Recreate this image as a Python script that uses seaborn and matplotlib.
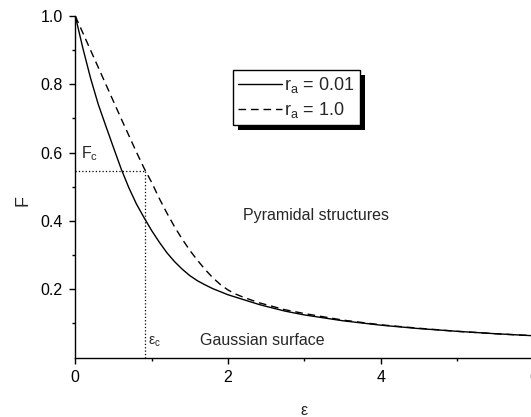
import numpy as np
import pandas as pd
import matplotlib
matplotlib.use("Agg")
import matplotlib.pyplot as plt
import matplotlib.patheffects as pe
import seaborn as sns

# values
eps = [0.0, 0.1, 0.2, 0.3, 0.4, 0.5, 0.6, 0.7, 0.8, 0.9, 1.0, 1.1, 1.2, 1.3,
       1.4, 1.5, 1.6, 1.7, 1.8, 1.9, 2.0, 2.1, 2.2, 2.3, 2.4, 2.5, 2.75,
       3.0, 3.5, 4.0, 4.5, 5.0, 5.5, 6.0]
f_ra_001 = [1.000, 0.905, 0.818, 0.742, 0.678, 0.615, 0.553, 0.498, 0.450,
            0.410, 0.372, 0.338, 0.307, 0.281, 0.259, 0.240, 0.225, 0.213,
            0.202, 0.193, 0.184, 0.177, 0.170, 0.163, 0.156, 0.150, 0.136,
            0.125, 0.108, 0.095, 0.085, 0.077, 0.070, 0.064]
f_ra_1 = [1.000, 0.950, 0.900, 0.850, 0.800, 0.750, 0.700, 0.651, 0.602,
          0.555, 0.513, 0.466, 0.423, 0.383, 0.347, 0.314, 0.285, 0.258,
          0.234, 0.214, 0.198, 0.186, 0.177, 0.169, 0.161, 0.155, 0.140,
          0.129, 0.110, 0.096, 0.086, 0.077, 0.070, 0.064]
series_labels = ["r$_\\mathregular{a}$ = 0.01", "r$_\\mathregular{a}$ = 1.0"]

eps_c = 0.915
F_c = 0.547

x_ticks = [0, 2, 4, 6]
x_minor = [1, 3, 5]
y_ticks = [0.2, 0.4, 0.6, 0.8, 1.0]
y_minor = [0.1, 0.3, 0.5, 0.7, 0.9]

df = pd.DataFrame({"eps": eps, "solid": f_ra_001, "dashed": f_ra_1})

sns.set_style("ticks")
plt.rcParams["font.family"] = ["Liberation Sans", "DejaVu Sans"]
plt.rcParams["axes.edgecolor"] = "black"
plt.rcParams["xtick.color"] = "black"
plt.rcParams["ytick.color"] = "black"

fig = plt.figure(figsize=(5.31, 4.17), dpi=100)
ax = fig.add_axes([0.1418, 0.1424, 0.8627, 0.8192])

sns.lineplot(data=df, x="eps", y="solid", color="black", lw=1.0, ax=ax)
sns.lineplot(data=df, x="eps", y="dashed", color="black", lw=1.0,
             linestyle=(0, (5.5, 3.5)), ax=ax)

# critical point guides
ax.plot([0, eps_c], [F_c, F_c], color="black", lw=0.9, linestyle=(0, (1, 1.7)))
ax.plot([eps_c, eps_c], [0, F_c], color="black", lw=0.9, linestyle=(0, (1, 1.7)))

ax.set_xlim(0, 6)
ax.set_ylim(0, 1.0)
ax.set_xticks(x_ticks)
ax.set_xticks(x_minor, minor=True)
ax.set_yticks(y_ticks)
ax.set_yticklabels([f"{v:.1f}" for v in y_ticks])
ax.set_yticks(y_minor, minor=True)
ax.tick_params(which="major", length=4.5, width=1.0, direction="out",
               labelsize=11.5, pad=4.5)
ax.tick_params(which="minor", length=2.5, width=1.0, direction="out")
for s in ["top", "right"]:
    ax.spines[s].set_visible(False)
for s in ["left", "bottom"]:
    ax.spines[s].set_linewidth(1.0)

ax.set_xlabel("ε", fontsize=11.5, va="baseline")
ax.xaxis.set_label_coords(0.5, -0.168)
ax.set_ylabel("F", fontsize=13, va="baseline")
ax.yaxis.set_label_coords(-0.105, 0.461)

ax.text(0.075, 0.583, "F$_\\mathregular{c}$", fontsize=11.5, va="baseline")
ax.text(0.952, 0.037, "ε$_\\mathregular{c}$", fontsize=10, va="baseline")
ax.text(1.636, 0.037, "Gaussian surface", fontsize=11.5, va="baseline")
ax.text(2.2, 0.403, "Pyramidal structures", fontsize=11.5, va="baseline")

lines = ax.get_lines()[:2]
leg = ax.legend(lines, series_labels, loc="upper left",
                bbox_to_anchor=(233 / 531, 1 - 70 / 417),
                bbox_transform=fig.transFigure, borderaxespad=0,
                fontsize=13, handlelength=2.4, handletextpad=0.15,
                labelspacing=0.25, borderpad=0.3, fancybox=False,
                framealpha=1, edgecolor="black")
frame = leg.get_frame()
frame.set_linewidth(1.0)
frame.set_path_effects([pe.SimplePatchShadow(offset=(3.6, -3.6),
                                             shadow_rgbFace="black", alpha=1),
                        pe.Normal()])

fig.savefig("out.png", dpi=100)
